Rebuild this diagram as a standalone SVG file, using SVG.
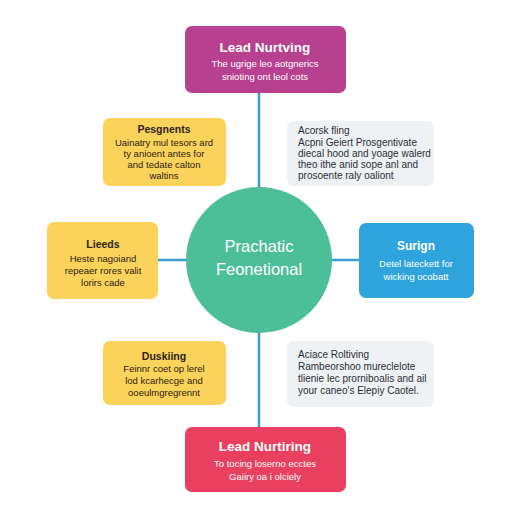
<svg xmlns="http://www.w3.org/2000/svg" width="512" height="512" viewBox="0 0 512 512">
<style>
.t{font-family:"Liberation Sans",Arial,sans-serif;font-weight:bold;text-anchor:middle}
.s{font-family:"Liberation Sans",Arial,sans-serif;font-size:9.5px;text-anchor:middle}
.g{font-family:"Liberation Sans",Arial,sans-serif;font-size:10px;fill:#2b2f36}
.w{fill:#ffffff}
.d{fill:#2a2418}
.c{stroke:#3a9fd0;stroke-width:2.5;fill:none}
</style>
<rect width="512" height="512" fill="#ffffff"/>
<g id="connectors">
<line class="c" x1="259" y1="93" x2="259" y2="190"/>
<line class="c" x1="259" y1="330" x2="259" y2="427"/>
<line class="c" x1="158" y1="260" x2="187" y2="260"/>
<line class="c" x1="331" y1="260" x2="359" y2="260"/>
</g>
<g id="top">
<rect x="185" y="26" width="161" height="67" rx="7" fill="#b8418f"/>
<text class="t w" x="265" y="52" font-size="13.5">Lead Nurtving</text>
<text class="s w" x="265" y="67">The ugrige leo aotgnerics</text>
<text class="s w" x="265" y="80">snioting ont leol cots</text>
</g>
<g id="top-left">
<rect x="103" y="118" width="123" height="68" rx="7" fill="#fbd25a"/>
<text class="t d" x="164" y="133" font-size="10.5">Pesgnents</text>
<text class="s d" x="164" y="146">Uainatry mul tesors ard</text>
<text class="s d" x="164" y="157">ty anioent antes for</text>
<text class="s d" x="164" y="168">and tedate calton</text>
<text class="s d" x="164" y="179">waltins</text>
</g>
<g id="top-right">
<rect x="287" y="121" width="147" height="65" rx="7" fill="#eef1f4"/>
<text class="g" x="298" y="134">Acorsk fling</text>
<text class="g" x="298" y="146">Acpni Geiert Prosgentivate</text>
<text class="g" x="298" y="157">diecal hood and yoage walerd</text>
<text class="g" x="298" y="168">theo ithe anid sope anl and</text>
<text class="g" x="298" y="179">prosoente raly oaliont</text>
</g>
<g id="left">
<rect x="47" y="222" width="111" height="77" rx="7" fill="#fbd25a"/>
<text class="t d" x="103" y="248" font-size="10.5">Lieeds</text>
<text class="s d" x="103" y="262">Heste nagoiand</text>
<text class="s d" x="103" y="274">repeaer rores valit</text>
<text class="s d" x="103" y="286">lorirs cade</text>
</g>
<g id="center">
<circle cx="259" cy="260" r="73" fill="#4dbf98"/>
<text class="s w" x="259" y="252" style="font-size:16.5px">Prachatic</text>
<text class="s w" x="259" y="275" style="font-size:16.5px">Feonetional</text>
</g>
<g id="right">
<rect x="359" y="223" width="115" height="75" rx="7" fill="#2ea3dc"/>
<text class="t w" x="416" y="250" font-size="12">Surign</text>
<text class="s w" x="416" y="267">Detel lateckett for</text>
<text class="s w" x="416" y="280">wicking ocobatt</text>
</g>
<g id="bottom-left">
<rect x="103" y="341" width="123" height="64" rx="7" fill="#fbd25a"/>
<text class="t d" x="164" y="360" font-size="10.5">Duskiing</text>
<text class="s d" x="164" y="372">Feinnr coet op lerel</text>
<text class="s d" x="164" y="384">lod kcarhecge and</text>
<text class="s d" x="164" y="396">ooeulmgregrennt</text>
</g>
<g id="bottom-right">
<rect x="287" y="341" width="147" height="66" rx="7" fill="#eef1f4"/>
<text class="g" x="298" y="358">Aciace Roltiving</text>
<text class="g" x="298" y="370">Rambeorshoo mureclelote</text>
<text class="g" x="298" y="382">tlienie lec prorniboalis and ail</text>
<text class="g" x="298" y="394">your caneo's Elepiy Caotel.</text>
</g>
<g id="bottom">
<rect x="185" y="427" width="161" height="65" rx="7" fill="#e8405e"/>
<text class="t w" x="265" y="451" font-size="13.5">Lead Nurtiring</text>
<text class="s w" x="265" y="467">To tocing loserno ecctes</text>
<text class="s w" x="265" y="480">Gaiiry oa i olciely</text>
</g>
</svg>
